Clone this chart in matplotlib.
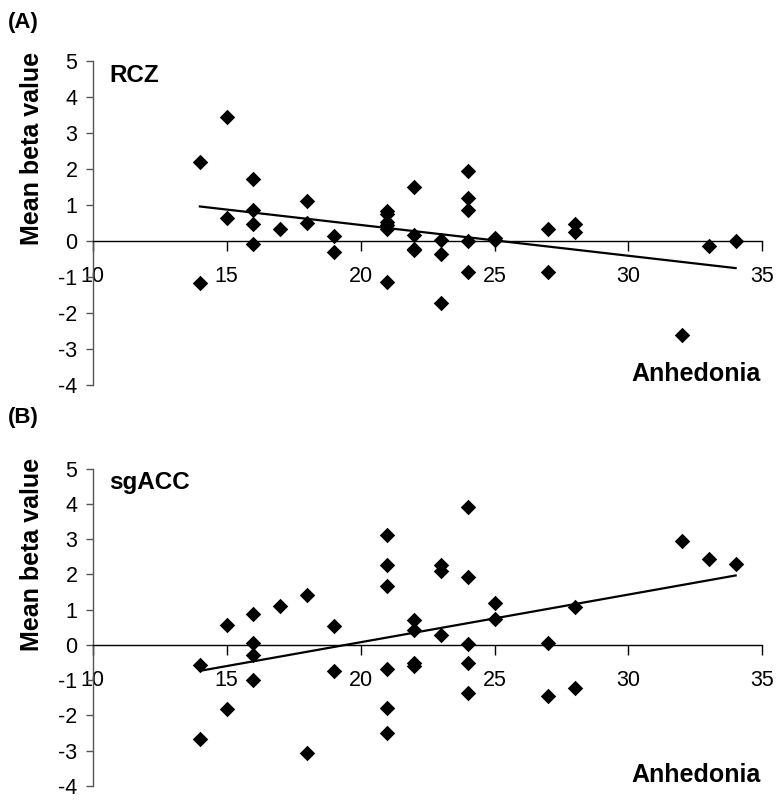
import numpy as np
import matplotlib
matplotlib.use("Agg")
import matplotlib.pyplot as plt

plt.rcParams['font.family'] = ['Liberation Sans', 'DejaVu Sans']
plt.rcParams['axes.unicode_minus'] = False

# anhedonia scores (same subjects in both panels)
anhedonia = [14, 14, 15, 15, 16, 16, 16, 16, 17, 18, 18, 19, 19,
             21, 21, 21, 21, 21, 21, 22, 22, 22, 22, 23, 23, 23,
             24, 24, 24, 24, 24, 25, 25, 27, 27, 28, 28, 32, 33, 34]

# RCZ mean beta values
rcz = [2.2, -1.18, 3.45, 0.65, 1.71, 0.85, 0.47, -0.09, 0.33, 1.1, 0.49, 0.14, -0.32,
       0.84, 0.75, 0.52, 0.45, 0.33, -1.13, 1.49, 0.17, -0.22, -0.25, 0.03, -0.36, -1.72,
       1.95, 1.18, 0.85, 0.0, -0.87, 0.07, 0.03, 0.32, -0.87, 0.47, 0.26, -2.61, -0.13, 0.0]

# sgACC mean beta values
sgacc = [-0.56, -2.66, 0.57, -1.82, 0.86, 0.05, -0.30, -1.01, 1.10, 1.42, -3.06, 0.52, -0.73,
         3.11, 2.26, 1.67, -0.69, -1.78, -2.51, 0.69, 0.42, -0.53, -0.59, 2.26, 2.09, 0.27,
         3.92, 1.93, 0.01, -0.53, -1.36, 1.19, 0.73, 0.06, -1.45, 1.07, -1.22, 2.94, 2.43, 2.30]

xticks = [10, 15, 20, 25, 30, 35]
yticks = [-4, -3, -2, -1, 0, 1, 2, 3, 4, 5]

fig = plt.figure(figsize=(7.76, 8.01), dpi=100)

panels = [
    ("(A)", "RCZ", rcz, [0.1195, 0.5194, 0.863, 0.4045], 1.118),
    ("(B)", "sgACC", sgacc, [0.1195, 0.019, 0.863, 0.3960], 1.16),
]

for letter, region, vals, rect, letter_y in panels:
    ax = fig.add_axes(rect)
    x = np.array(anhedonia, dtype=float)
    y = np.array(vals, dtype=float)
    ax.scatter(x, y, marker='D', s=62, color='black', zorder=3, linewidths=0)

    # linear trend line
    k, b = np.polyfit(x, y, 1)
    xs = np.array([x.min(), x.max()])
    ax.plot(xs, k * xs + b, color='black', lw=1.6, zorder=2)

    ax.set_xlim(10, 35)
    ax.set_ylim(-4, 5)
    ax.spines['top'].set_visible(False)
    ax.spines['right'].set_visible(False)
    ax.spines['bottom'].set_position(('data', 0))
    ax.spines['bottom'].set_linewidth(1.0)
    ax.spines['left'].set_color('#555555')
    ax.spines['left'].set_linewidth(1.0)
    ax.set_xticks(xticks)
    ax.set_yticks(yticks)
    ax.tick_params(axis='x', direction='out', length=7, width=1.0, pad=11, labelsize=15.5)
    ax.tick_params(axis='y', direction='out', length=5, width=1.0, pad=6, labelsize=15.5,
                   color='#555555')
    ax.patch.set_alpha(0)

    ax.text(0.025, 0.955, region, transform=ax.transAxes, fontsize=17.5,
            fontweight='bold', va='center', ha='left')
    ax.text(0.997, 0.035, "Anhedonia", transform=ax.transAxes, fontsize=18,
            fontweight='bold', va='center', ha='right')
    ax.text(-0.09, 0.73, "Mean beta value", transform=ax.transAxes, fontsize=18,
            fontweight='bold', rotation=90, va='center', ha='center')
    ax.text(-0.126, letter_y, letter, transform=ax.transAxes,
            fontsize=16, fontweight='bold', va='center', ha='left')

fig.savefig("out.png", dpi=100)
